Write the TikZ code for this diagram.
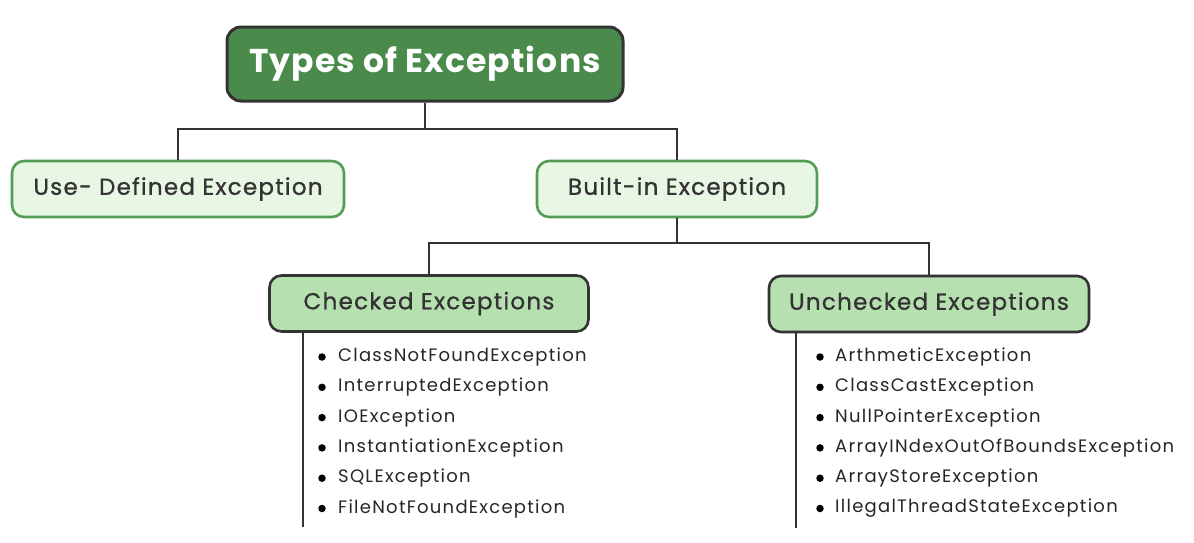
\documentclass[tikz,border=0pt]{standalone}
\usepackage{fontspec}
\setmainfont{Poppins}
\newfontfamily\topfont[LetterSpace=3.5]{Poppins}
\newfontfamily\medfont[FakeBold=0.9,LetterSpace=5.5]{Poppins}
\newfontfamily\listfont[LetterSpace=7]{Poppins}
\definecolor{topfill}{RGB}{74,139,76}
\definecolor{darkline}{RGB}{51,51,51}
\definecolor{lightfill}{RGB}{232,246,228}
\definecolor{lightborder}{RGB}{82,156,84}
\definecolor{midfill}{RGB}{182,224,176}
\definecolor{txt}{RGB}{51,51,51}
\tikzset{
  topbox/.style={draw=darkline, line width=3pt, fill=topfill, rounded corners=14pt,
    minimum width=396pt, minimum height=74pt, text=white, font=\topfont\fontsize{33}{38}\selectfont\bfseries, inner sep=0pt},
  lightbox/.style={draw=lightborder, line width=2.6pt, fill=lightfill, rounded corners=12pt,
    minimum height=56pt, text=txt, font=\medfont\fontsize{23}{27}\selectfont, inner sep=0pt},
  midbox/.style={draw=darkline, line width=2.6pt, fill=midfill, rounded corners=12pt,
    minimum width=319pt, minimum height=56pt, text=txt, font=\medfont\fontsize{23}{27}\selectfont, inner sep=0pt},
  conn/.style={draw=darkline, line width=2.6pt},
  itemtext/.style={anchor=west, text=black!85, font=\listfont\fontsize{18}{21}\selectfont, inner sep=0pt},
  dot/.style={circle, fill=black, inner sep=0pt, minimum size=7.5pt},
}
\begin{document}
\begin{tikzpicture}[x=1pt,y=-1pt]
\useasboundingbox (0,0) rectangle (1194,542);
\coordinate (j1) at (425,129);
\coordinate (j2) at (677,243);
\coordinate (cl) at (303,527);
\coordinate (ul) at (796,528);

\node[topbox] (top) at (425,64) {Types of Exceptions};
\node[lightbox, minimum width=332pt] (use) at (178,189) {Use- Defined Exception};
\node[lightbox, minimum width=280pt] (built) at (677,189) {Built-in Exception};
\node[midbox] (checked) at (429,303.5) {Checked Exceptions};
\node[midbox, minimum width=320pt] (unchecked) at (929,304) {Unchecked Exceptions};

\draw[conn] (top.south) |- (use.north |- j1) -- (use.north);
\draw[conn] (top.south) |- (built.north |- j1) -- (built.north);
\draw[conn] (built.south) |- (checked.north |- j2) -- (checked.north);
\draw[conn] (built.south) |- (unchecked.north |- j2) -- (unchecked.north);
\draw[conn] (checked.south -| cl) -- (cl);
\draw[conn] (unchecked.south -| ul) -- (ul);

\foreach \t [count=\i] in {ClassNotFoundException, InterruptedException, IOException, InstantiationException, SQLException, FileNotFoundException}{
  \node[dot] (cd\i) at (322,{357+30.3*(\i-1)}) {};
  \node[itemtext] (ct\i) at (338,{357+30.3*(\i-1)}) {\t};
}
\foreach \t [count=\i] in {ArthmeticException, ClassCastException, NullPointerException, ArrayINdexOutOfBoundsException, ArrayStoreException, IllegalThreadStateException}{
  \node[dot] (ud\i) at (820,{357+30.3*(\i-1)}) {};
  \node[itemtext] (ut\i) at (835,{357+30.3*(\i-1)}) {\t};
}
\end{tikzpicture}
\end{document}
